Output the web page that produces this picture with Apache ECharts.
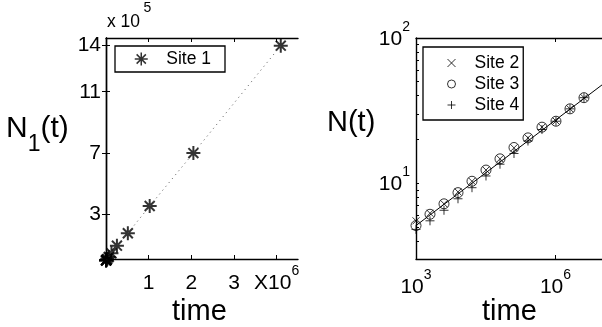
<!DOCTYPE html>
<html><head><meta charset="utf-8">
<script src="https://cdn.jsdelivr.net/npm/echarts@6/dist/echarts.min.js"></script>
<style>html,body{margin:0;padding:0;background:#fff}#c{width:602px;height:327px}</style>
</head><body><div id="c"></div>
<script>
// ---- data ----
const times = [1000, 2000, 4000, 8000, 16000, 32000, 64000, 128000, 256000, 512000, 1024000, 2048000, 4096000];
const site1 = [350, 700, 1400, 2800, 5600, 11000, 23000, 47000, 97000, 178000, 355000, 700000, 1400000];
const site2 = [5.5, 6.2, 7.2, 8.7, 10.3, 12.3, 14.7, 17.5, 20.5, 24.3, 26.8, 32.5, 38.8];
const site3 = [5.1, 6.1, 7.2, 8.6, 10.3, 12.3, 14.7, 17.6, 20.5, 24.3, 26.7, 32.5, 38.8];
const site4 = [4.8, 5.5, 6.5, 7.8, 9.3, 11.2, 13.5, 16.0, 19.5, 23.4, 26.7, 32.5, 38.8];
const fitTimes = [1000, 10000000];
const fitValues = [5.1, 47.5];
const leftXTicks = [1000000, 2000000, 3000000, 4000000];
const leftYTicks = [300000, 700000, 1100000, 1400000];
const rightXTicks = [1000, 1000000];
const rightYLabels = [10, 100];
const rightYTicks = [4, 5, 6, 7, 8, 9, 10, 20, 30, 40, 50, 60, 70, 80, 90, 100];

const FONT = '"Liberation Sans", Arial, Helvetica, sans-serif';
const pair = (xs, ys) => xs.map((x, i) => [x, ys[i]]);
const ASTER = 'path://M0,-1L0,1M-1,0L1,0M-0.71,-0.71L0.71,0.71M-0.71,0.71L0.71,-0.71';
const CROSS = 'path://M-1,-1L1,1M-1,1L1,-1';
const PLUS = 'path://M0,-1L0,1M-1,0L1,0';
const mk = { color: 'rgba(0,0,0,0)', borderColor: '#000', borderWidth: 1.3 };
const axLine = { show: true, lineStyle: { color: '#000', width: 1.4 } };
const rich = {
  b: { fontSize: 21, fontFamily: FONT, color: '#000', lineHeight: 30, verticalAlign: 'bottom' },
  s: { fontSize: 14, fontFamily: FONT, color: '#000', verticalAlign: 'top' }
};
const exp10 = v => '{b|10}{s|' + Math.round(Math.log10(v)) + '}';

const chart = echarts.init(document.getElementById('c'), null, { renderer: 'canvas' });
chart.setOption({
  animation: false,
  backgroundColor: '#fff',
  textStyle: { fontFamily: FONT },
  grid: [
    { left: 106, top: 38, width: 192, height: 221 },
    { left: 416, top: 38, width: 210.7, height: 221 }
  ],
  xAxis: [
    { gridIndex: 0, type: 'value', min: 0, max: 4500000, position: 'bottom',
      axisLine: axLine, splitLine: { show: false },
      axisTick: { inside: true, length: 4, customValues: leftXTicks, lineStyle: { color: '#000' } },
      axisLabel: { customValues: leftXTicks, margin: 5, rich: rich,
        formatter: v => v === 4000000 ? '{b|X10}{s|6}' : '{b|' + (v / 1000000) + '}' } },
    { gridIndex: 0, type: 'value', min: 0, max: 4500000, position: 'top',
      axisLine: axLine, splitLine: { show: false }, axisLabel: { show: false },
      axisTick: { inside: true, length: 4, customValues: leftXTicks, lineStyle: { color: '#000' } } },
    { gridIndex: 1, type: 'log', logBase: 10, min: 1000, max: 10000000, position: 'bottom',
      axisLine: axLine, splitLine: { show: false }, minorTick: { show: false },
      axisTick: { inside: true, length: 4, customValues: rightXTicks, lineStyle: { color: '#000' } },
      axisLabel: { customValues: rightXTicks, margin: 9, rich: rich, formatter: exp10 } },
    { gridIndex: 1, type: 'log', logBase: 10, min: 1000, max: 10000000, position: 'top',
      axisLine: axLine, splitLine: { show: false }, axisLabel: { show: false },
      axisTick: { inside: true, length: 4, customValues: rightXTicks, lineStyle: { color: '#000' } } }
  ],
  yAxis: [
    { gridIndex: 0, type: 'value', min: 10000, max: 1450000, position: 'left',
      axisLine: axLine, splitLine: { show: false },
      axisTick: { inside: true, length: 4, customValues: leftYTicks, lineStyle: { color: '#000' } },
      axisLabel: { customValues: leftYTicks, margin: 5, fontSize: 21, color: '#000', fontFamily: FONT,
        formatter: v => String(Math.round(v / 100000)) } },
    { gridIndex: 0, type: 'value', min: 10000, max: 1450000, position: 'right',
      axisLine: axLine, splitLine: { show: false }, axisLabel: { show: false },
      axisTick: { inside: true, length: 4, customValues: leftYTicks, lineStyle: { color: '#000' } } },
    { gridIndex: 1, type: 'log', logBase: 10, min: 3, max: 100, position: 'left',
      axisLine: axLine, splitLine: { show: false }, minorTick: { show: false },
      axisTick: { inside: true, length: 3, customValues: rightYTicks, lineStyle: { color: '#000' } },
      axisLabel: { customValues: rightYLabels, margin: 6, rich: rich, padding: [0, 0, 6, 0], formatter: exp10 } }
  ],
  legend: [
    { data: ['Site 1'], orient: 'vertical', left: 115, top: 46, padding: [4, 14, 4, 19],
      borderColor: '#000', borderWidth: 1.3, itemWidth: 40, itemHeight: 13, itemGap: 0,
      selectedMode: false, itemStyle: { color: 'rgba(0,0,0,0)', borderColor: '#000', borderWidth: 1.5 },
      textStyle: { fontSize: 17.5, fontFamily: FONT, color: '#000' } },
    { data: ['Site 2', 'Site 3', 'Site 4'], orient: 'vertical', left: 423, top: 47, padding: [7, 4, 6, 24],
      borderColor: '#000', borderWidth: 1.3, itemWidth: 36, itemHeight: 8, itemGap: 3,
      selectedMode: false, itemStyle: { color: 'rgba(0,0,0,0)', borderColor: '#000', borderWidth: 1 },
      textStyle: { fontSize: 17.5, fontFamily: FONT, color: '#000', lineHeight: 18 } }
  ],
  series: [
    { name: 'trend1', type: 'line', xAxisIndex: 0, yAxisIndex: 0, data: pair(times, site1),
      symbol: 'none', silent: true, lineStyle: { color: '#555', width: 1, type: [1, 4] } },
    { name: 'Site 1', type: 'scatter', xAxisIndex: 0, yAxisIndex: 0, data: pair(times, site1),
      symbol: ASTER, symbolSize: 14, clip: false, itemStyle: Object.assign({}, mk, { borderWidth: 2 }) },
    { name: 'fit', type: 'line', xAxisIndex: 2, yAxisIndex: 2, data: pair(fitTimes, fitValues),
      symbol: 'none', silent: true, lineStyle: { color: '#000', width: 1 } },
    { name: 'Site 2', type: 'scatter', xAxisIndex: 2, yAxisIndex: 2, data: pair(times, site2),
      symbol: CROSS, symbolSize: 7, clip: false, itemStyle: Object.assign({}, mk, { borderWidth: 1 }) },
    { name: 'Site 3', type: 'scatter', xAxisIndex: 2, yAxisIndex: 2, data: pair(times, site3),
      symbol: 'circle', symbolSize: 10, clip: false, itemStyle: Object.assign({}, mk, { borderWidth: 1 }) },
    { name: 'Site 4', type: 'scatter', xAxisIndex: 2, yAxisIndex: 2, data: pair(times, site4),
      symbol: PLUS, symbolSize: 9, clip: false, itemStyle: Object.assign({}, mk, { borderWidth: 1 }) }
  ],
  graphic: [
    { type: 'text', left: 107, top: 13, style: { text: 'x 10', fontSize: 17.5, fontFamily: FONT, fill: '#000' } },
    { type: 'text', left: 143.5, top: 1, style: { text: '5', fontSize: 14, fontFamily: FONT, fill: '#000' } },
    { type: 'text', left: 6, top: 114, style: { text: '{n|N}{u|1}{n|(t)}', rich: {
        n: { fontSize: 30, fontFamily: FONT, fill: '#000', verticalAlign: 'top' },
        u: { fontSize: 23, fontFamily: FONT, fill: '#000', lineHeight: 42, verticalAlign: 'bottom' } } } },
    { type: 'text', left: 327, top: 108, style: { text: 'N(t)', fontSize: 29, fontFamily: FONT, fill: '#000' } },
    { type: 'text', left: 172, top: 297, style: { text: 'time', fontSize: 29, fontFamily: FONT, fill: '#000' } },
    { type: 'text', left: 482, top: 297, style: { text: 'time', fontSize: 29, fontFamily: FONT, fill: '#000' } }
  ]
});
</script></body></html>
